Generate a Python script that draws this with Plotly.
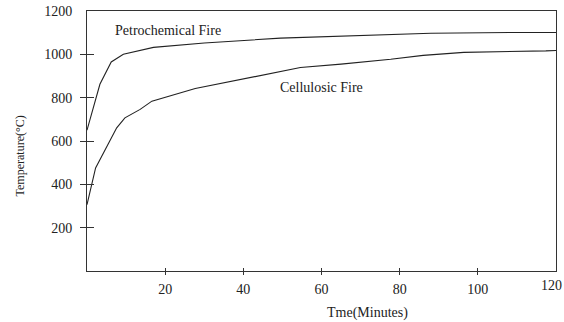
import plotly.graph_objects as go

pet_t = [0, 3.3, 6.2, 9.3, 17, 30, 49.5, 70, 88, 109, 120]
pet_T = [650, 862, 965, 1000, 1032, 1052, 1075, 1088, 1097, 1101, 1101]

cel_t = [0, 2.2, 7.6, 9.7, 13.6, 16.6, 27.7, 41.8, 54.6, 65, 77.7, 86, 96.4, 117.4, 120]
cel_T = [306, 476, 661, 707, 746, 784, 842, 893, 939, 955, 977, 995, 1009, 1016, 1018]

x_labels = [20, 40, 60, 80, 100]
x_last_label = 120
x_ticks = [20, 40, 60, 80, 100]
y_labels = [200, 400, 600, 800, 1000, 1200]
y_ticks = [200, 400, 600, 800, 1000]

FONT = "Liberation Serif"
LINE = "#333333"

fig = go.Figure()
fig.add_trace(go.Scatter(x=pet_t, y=pet_T, mode="lines",
                         line=dict(color="#222222", width=1.1), showlegend=False))
fig.add_trace(go.Scatter(x=cel_t, y=cel_T, mode="lines",
                         line=dict(color="#222222", width=1.1), showlegend=False))
# empty traces to anchor overlay tick axes
fig.add_trace(go.Scatter(x=[], y=[], xaxis="x2", yaxis="y2", showlegend=False))
fig.add_trace(go.Scatter(x=[], y=[], xaxis="x3", yaxis="y3", showlegend=False))

fig.update_layout(
    width=564, height=322,
    margin=dict(l=87, r=8, t=11, b=51),
    paper_bgcolor="white", plot_bgcolor="white",
    font=dict(family=FONT, size=14, color="#222222"),
    xaxis=dict(range=[0, 120], tickvals=x_labels, ticks="", showgrid=False,
               zeroline=False, showline=True, linecolor=LINE, linewidth=1,
               mirror=True, ticklabelstandoff=5, ticklabeloverflow="allow",
               automargin=False, tickfont=dict(family=FONT, size=14)),
    yaxis=dict(range=[0, 1200], tickvals=y_labels, ticks="", showgrid=False,
               zeroline=False, showline=True, linecolor=LINE, linewidth=1,
               mirror=True, ticklabelstandoff=11, ticklabeloverflow="allow",
               automargin=False, tickfont=dict(family=FONT, size=14)),
    xaxis2=dict(range=[0, 120], overlaying="x", tickvals=x_ticks, ticks="outside",
                ticklen=3, tickcolor=LINE, showticklabels=False, showgrid=False,
                zeroline=False, showline=False, anchor="y2", side="bottom",
                automargin=False),
    yaxis2=dict(range=[0, 1200], overlaying="y", tickvals=y_ticks, ticks="outside",
                ticklen=6, tickcolor=LINE, showticklabels=False, showgrid=False,
                zeroline=False, showline=False, anchor="x2", side="left",
                automargin=False),
    xaxis3=dict(range=[0, 120], overlaying="x", tickvals=x_ticks, ticks="inside",
                ticklen=3, tickcolor=LINE, showticklabels=False, showgrid=False,
                zeroline=False, showline=False, anchor="y3", side="bottom",
                automargin=False),
    yaxis3=dict(range=[0, 1200], overlaying="y", tickvals=y_ticks, ticks="inside",
                ticklen=7, tickcolor=LINE, showticklabels=False, showgrid=False,
                zeroline=False, showline=False, anchor="x3", side="left",
                automargin=False),
    annotations=[
        dict(text=str(x_last_label), x=x_last_label, y=0, xref="x", yref="y",
             xanchor="right", yanchor="top", xshift=8, yshift=-5,
             showarrow=False, font=dict(family=FONT, size=14)),
        dict(text="Petrochemical Fire", x=20.6, y=1110, xref="x", yref="y",
             xanchor="center", yanchor="middle",
             showarrow=False, font=dict(family=FONT, size=14)),
        dict(text="Cellulosic Fire", x=60, y=848, xref="x", yref="y",
             xanchor="center", yanchor="middle",
             showarrow=False, font=dict(family=FONT, size=14)),
        dict(text="Tme(Minutes)", x=0.599, y=-0.162, xref="paper", yref="paper",
             xanchor="center", yanchor="middle",
             showarrow=False, font=dict(family=FONT, size=14)),
        dict(text="Temperature(°C)", x=-0.143, y=0.444, xref="paper", yref="paper",
             xanchor="center", yanchor="middle",
             showarrow=False, textangle=-90, font=dict(family=FONT, size=12)),
    ],
)

fig.write_html("out.html")
